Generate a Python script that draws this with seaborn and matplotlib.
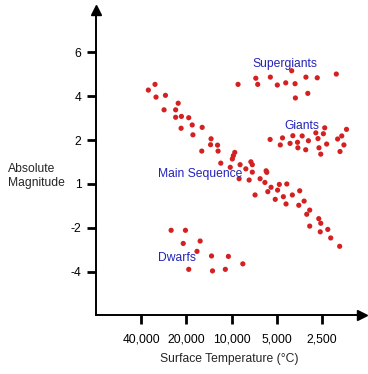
import pandas as pd
import matplotlib.pyplot as plt
import seaborn as sns

# main sequence (temperature in C, magnitude on axis scale)
ms_temp = [32400, 35900, 31900, 27600, 22700, 28200, 23600, 23600, 21600, 19300,
           18300, 21700, 15700, 18100, 13700, 13800, 12400, 15800, 12300, 9520,
           9730, 9880, 11800, 8770, 7430, 7270, 10200, 8030, 7270, 5880,
           5820, 8900, 7630, 6450, 5990, 5450, 4800, 4280, 5730, 4930,
           4510, 6970, 5110, 4330, 3930, 3510, 3560, 3280, 3010, 3150,
           2620, 2540, 3010, 2280, 2560, 2180, 1900]
ms_mag = [4.54, 4.28, 3.96, 4.04, 3.68, 3.38, 3.38, 3.04, 3.08, 3.02,
          2.69, 2.54, 2.58, 2.24, 2.06, 1.79, 1.77, 1.50, 1.50, 1.44,
          1.29, 1.14, 0.95, 0.88, 1.01, 0.88, 0.76, 0.69, 0.54, 0.60,
          0.53, 0.24, 0.18, 0.24, 0.07, -0.15, -0.02, 0.00, -0.35, -0.28,
          -0.58, -0.50, -0.70, -0.91, -0.50, -0.31, -0.97, -0.78, -1.19, -1.38,
          -1.58, -1.79, -1.92, -2.07, -2.18, -2.46, -2.84]

sg_temp = [9050, 6890, 6690, 5510, 4950, 4350, 3970, 3770, 3190, 2680, 2000, 3750, 3100]
sg_mag = [4.54, 4.82, 4.54, 4.87, 4.51, 4.61, 5.16, 4.57, 4.87, 4.84, 5.01, 3.92, 4.13]

giant_temp = [5530, 4570, 3900, 3380, 2740, 2390, 2440, 4730, 4070, 3630, 3070,
              2650, 3610, 3200, 2610, 2320, 1960, 1840, 1710, 1780, 1890, 2540]
giant_mag = [2.03, 2.10, 2.20, 2.19, 2.33, 2.56, 2.29, 1.78, 1.85, 1.90, 1.97,
             2.07, 1.65, 1.56, 1.65, 1.82, 2.05, 2.19, 2.49, 1.78, 1.48, 1.36]

dwarf_temp = [25300, 20300, 21000, 16200, 17000, 13600, 10500, 8410, 19300, 13400, 11000]
dwarf_mag = [-2.11, -2.11, -2.71, -2.60, -3.07, -3.28, -3.30, -3.64, -3.89, -3.96, -3.89]

x_ticks = [40000, 20000, 10000, 5000, 2500]
x_labels = ['40,000', '20,000', '10,000', '5,000', '2,500']
y_ticks = [6, 4, 2, 0, -2, -4]
y_labels = ['6', '4', '2', '1', '-2', '-4']

stars = pd.DataFrame({
    'temp': ms_temp + sg_temp + giant_temp + dwarf_temp,
    'mag': ms_mag + sg_mag + giant_mag + dwarf_mag,
})

sns.set_style('white')
plt.rcParams['font.family'] = ['Liberation Sans', 'DejaVu Sans']

fig = plt.figure(figsize=(3.68, 3.74), dpi=100)
ax = fig.add_axes([0.2609, 0.1578, 0.7228, 0.8155])

sns.scatterplot(x='temp', y='mag', data=stars, ax=ax, s=14, color='#d42020',
                edgecolor='none', legend=False)

ax.set_xscale('log', base=2)
ax.set_xlim(80200, 1348)
ax.set_ylim(-5.97, 7.93)
ax.set_xticks(x_ticks)
ax.set_xticklabels(x_labels)
ax.minorticks_off()
ax.set_yticks(y_ticks)
ax.set_yticklabels(y_labels)
ax.tick_params(axis='both', direction='out', length=6.5, width=2, labelsize=8.7,
               color='black', labelcolor='black', bottom=True, left=True)
ax.tick_params(axis='x', pad=7)
ax.tick_params(axis='y', pad=4)

for side in ['top', 'right']:
    ax.spines[side].set_visible(False)
for side in ['left', 'bottom']:
    ax.spines[side].set_linewidth(1.4)
    ax.spines[side].set_color('black')

# arrow heads on the axes
ax.plot(1, 0, '>k', ms=7.5, transform=ax.transAxes, clip_on=False)
ax.plot(0, 1, '^k', ms=7.5, transform=ax.transAxes, clip_on=False)

ax.set_xlabel('Surface Temperature (°C)', fontsize=8.7, labelpad=5)
ax.set_ylabel('')
fig.text(8 / 368, 1 - 176 / 374, 'Absolute\nMagnitude', fontsize=8.7,
         ha='left', va='center', linespacing=1.15)

label_color = '#2424b8'
ax.text(4440, 5.45, 'Supergiants', color=label_color, fontsize=8.7, ha='center', va='center')
ax.text(3370, 2.65, 'Giants', color=label_color, fontsize=8.7, ha='center', va='center')
ax.text(16300, 0.45, 'Main Sequence', color=label_color, fontsize=8.7, ha='center', va='center')
ax.text(23100, -3.36, 'Dwarfs', color=label_color, fontsize=8.7, ha='center', va='center')

plt.savefig('out.png', dpi=100)
